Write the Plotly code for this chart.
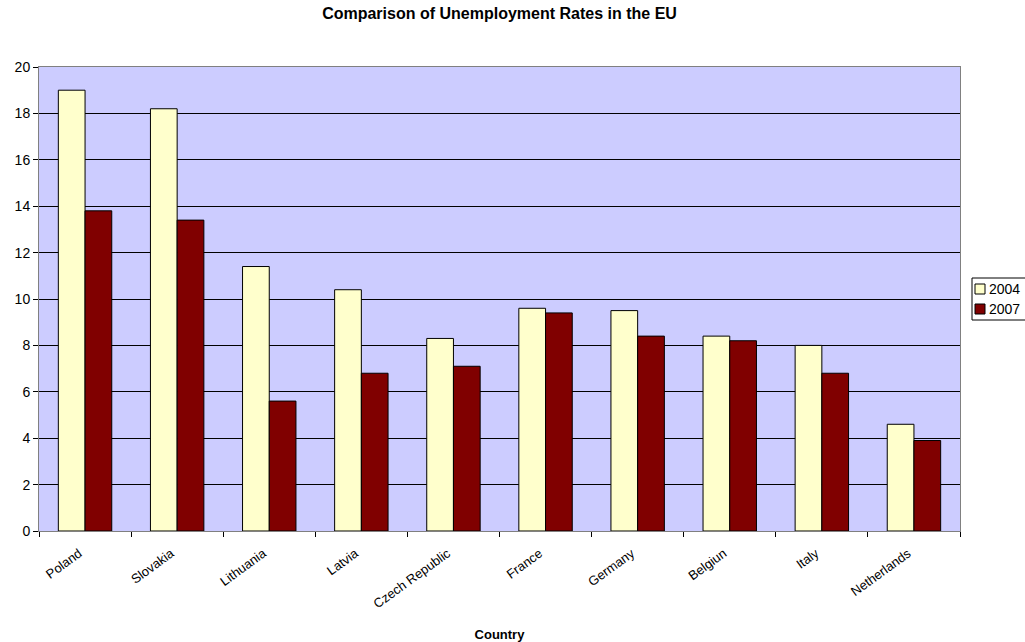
import plotly.graph_objects as go

countries = ["Poland", "Slovakia", "Lithuania", "Latvia", "Czech Republic",
             "France", "Germany", "Belgiun", "Italy", "Netherlands"]
rates_2004 = [19.0, 18.2, 11.4, 10.4, 8.3, 9.6, 9.5, 8.4, 8.0, 4.6]
rates_2007 = [13.8, 13.4, 5.6, 6.8, 7.1, 9.4, 8.4, 8.2, 6.8, 3.9]
series_names = ["2004", "2007"]
series_colors = ["#FFFFCC", "#800000"]
y_ticks = [0, 2, 4, 6, 8, 10, 12, 14, 16, 18, 20]

font_family = "Liberation Sans, Arial, sans-serif"

W, H = 1025, 642
M_L, M_R, M_T, M_B = 39, 65, 67, 111
PLOT_W = W - M_L - M_R
PLOT_H = H - M_T - M_B


def px_to_paper_x(px):
    return (px - M_L) / PLOT_W


def px_to_paper_y(py):
    return (H - M_B - py) / PLOT_H


fig = go.Figure()
for name, vals, color in zip(series_names, [rates_2004, rates_2007], series_colors):
    fig.add_trace(go.Bar(
        x=countries, y=vals, name=name,
        marker=dict(color=color, line=dict(color="#000000", width=1)),
    ))

# Compact boxed legend at the right edge of the chart
shapes = [dict(
    type="rect", xref="paper", yref="paper",
    x0=px_to_paper_x(972), x1=px_to_paper_x(1040),
    y0=px_to_paper_y(278), y1=px_to_paper_y(320),
    line=dict(color="#000000", width=1), fillcolor="#FFFFFF", layer="above",
)]
annotations = []
for i, (name, color) in enumerate(zip(series_names, series_colors)):
    cy = 289 + 20 * i
    shapes.append(dict(
        type="rect", xref="paper", yref="paper",
        x0=px_to_paper_x(975), x1=px_to_paper_x(985),
        y0=px_to_paper_y(cy - 5), y1=px_to_paper_y(cy + 5),
        line=dict(color="#000000", width=1), fillcolor=color, layer="above",
    ))
    annotations.append(dict(
        text=name, xref="paper", yref="paper",
        x=px_to_paper_x(987), y=px_to_paper_y(cy),
        xanchor="left", yanchor="middle", showarrow=False,
        font=dict(size=14, family=font_family, color="#000000"),
    ))

fig.update_layout(
    width=W, height=H,
    margin=dict(l=M_L, r=M_R, t=M_T, b=M_B, autoexpand=False),
    paper_bgcolor="#FFFFFF",
    plot_bgcolor="#CCCCFF",
    barmode="group",
    bargap=0.42,
    bargroupgap=0,
    font=dict(family=font_family, color="#000000"),
    title=dict(
        text="<b>Comparison of Unemployment Rates in the EU</b>",
        x=0.5, xref="paper", xanchor="center",
        y=1 - 13 / H, yref="container", yanchor="middle",
        font=dict(size=16, family=font_family),
    ),
    showlegend=False,
    shapes=shapes,
    annotations=annotations,
    xaxis=dict(
        type="category",
        tickangle=-36,
        tickfont=dict(size=13, family=font_family),
        ticks="outside", ticklen=5, tickcolor="#000000",
        tickson="boundaries",
        ticklabelstandoff=9,
        ticklabelshift=-6,
        showline=True, linecolor="#808080", linewidth=1, mirror=True,
        showgrid=False,
        title=dict(text="<b>Country</b>", font=dict(size=13, family=font_family),
                   standoff=23),
    ),
    yaxis=dict(
        range=[0, 20],
        tickvals=y_ticks,
        tickfont=dict(size=14, family=font_family),
        ticks="outside", ticklen=5, tickcolor="#000000",
        showline=True, linecolor="#808080", linewidth=1, mirror=True,
        showgrid=True, gridcolor="#000000", gridwidth=1,
        zeroline=False,
    ),
)

fig.write_html("out.html")
